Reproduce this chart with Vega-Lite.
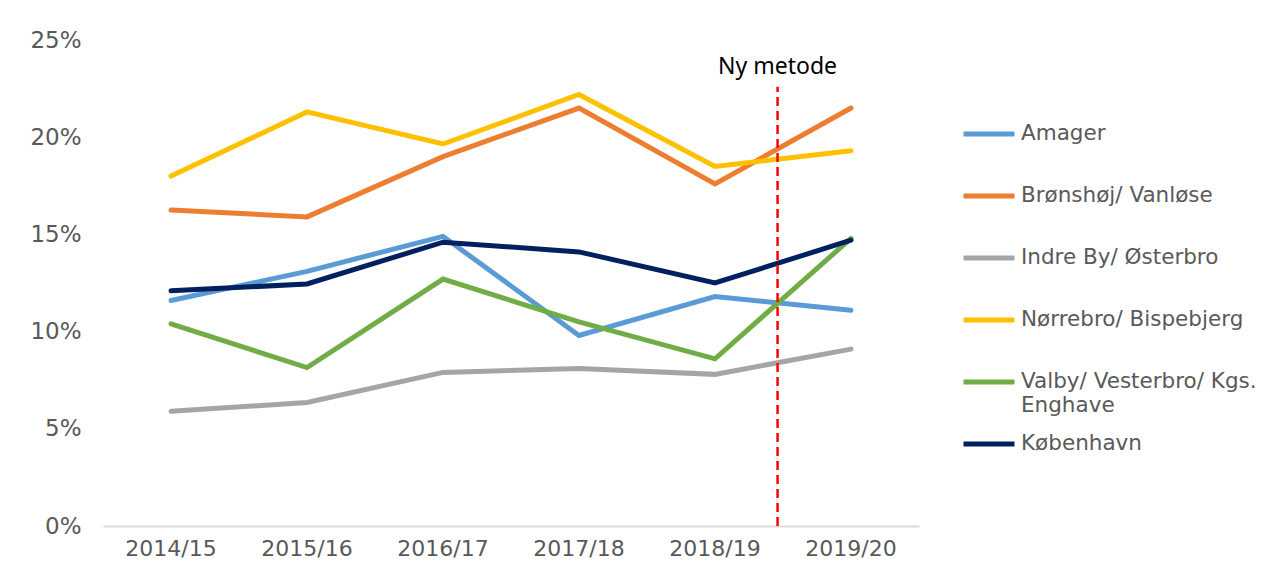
{
  "$schema": "https://vega.github.io/schema/vega-lite/v6.json",
  "width": 816,
  "height": 486,
  "autosize": "none",
  "padding": {"left": 103, "top": 40, "right": 366, "bottom": 55},
  "background": "white",
  "config": {"view": {"stroke": null}, "font": "DejaVu Sans"},
  "data": {"values": [
    {"year": "2014/15", "area": "Amager", "value": 11.6},
    {"year": "2015/16", "area": "Amager", "value": 13.1},
    {"year": "2016/17", "area": "Amager", "value": 14.9},
    {"year": "2017/18", "area": "Amager", "value": 9.8},
    {"year": "2018/19", "area": "Amager", "value": 11.8},
    {"year": "2019/20", "area": "Amager", "value": 11.1},
    {"year": "2014/15", "area": "Brønshøj/ Vanløse", "value": 16.25},
    {"year": "2015/16", "area": "Brønshøj/ Vanløse", "value": 15.9},
    {"year": "2016/17", "area": "Brønshøj/ Vanløse", "value": 19.0},
    {"year": "2017/18", "area": "Brønshøj/ Vanløse", "value": 21.5},
    {"year": "2018/19", "area": "Brønshøj/ Vanløse", "value": 17.6},
    {"year": "2019/20", "area": "Brønshøj/ Vanløse", "value": 21.5},
    {"year": "2014/15", "area": "Indre By/ Østerbro", "value": 5.9},
    {"year": "2015/16", "area": "Indre By/ Østerbro", "value": 6.35},
    {"year": "2016/17", "area": "Indre By/ Østerbro", "value": 7.9},
    {"year": "2017/18", "area": "Indre By/ Østerbro", "value": 8.1},
    {"year": "2018/19", "area": "Indre By/ Østerbro", "value": 7.8},
    {"year": "2019/20", "area": "Indre By/ Østerbro", "value": 9.1},
    {"year": "2014/15", "area": "Nørrebro/ Bispebjerg", "value": 18.0},
    {"year": "2015/16", "area": "Nørrebro/ Bispebjerg", "value": 21.3},
    {"year": "2016/17", "area": "Nørrebro/ Bispebjerg", "value": 19.65},
    {"year": "2017/18", "area": "Nørrebro/ Bispebjerg", "value": 22.2},
    {"year": "2018/19", "area": "Nørrebro/ Bispebjerg", "value": 18.5},
    {"year": "2019/20", "area": "Nørrebro/ Bispebjerg", "value": 19.3},
    {"year": "2014/15", "area": "Valby/ Vesterbro/ Kgs. Enghave", "value": 10.4},
    {"year": "2015/16", "area": "Valby/ Vesterbro/ Kgs. Enghave", "value": 8.15},
    {"year": "2016/17", "area": "Valby/ Vesterbro/ Kgs. Enghave", "value": 12.7},
    {"year": "2017/18", "area": "Valby/ Vesterbro/ Kgs. Enghave", "value": 10.5},
    {"year": "2018/19", "area": "Valby/ Vesterbro/ Kgs. Enghave", "value": 8.6},
    {"year": "2019/20", "area": "Valby/ Vesterbro/ Kgs. Enghave", "value": 14.8},
    {"year": "2014/15", "area": "København", "value": 12.1},
    {"year": "2015/16", "area": "København", "value": 12.45},
    {"year": "2016/17", "area": "København", "value": 14.6},
    {"year": "2017/18", "area": "København", "value": 14.1},
    {"year": "2018/19", "area": "København", "value": 12.5},
    {"year": "2019/20", "area": "København", "value": 14.7}
  ]},
  "layer": [
    {
      "mark": {"type": "line", "strokeWidth": 5, "strokeCap": "round"},
      "encoding": {
        "x": {
          "field": "year", "type": "ordinal",
          "scale": {"type": "band", "paddingInner": 0, "paddingOuter": 0},
          "axis": {"title": null, "labelAngle": 0, "ticks": false, "domainColor": "#D9D9D9", "domainWidth": 2, "labelPadding": 12, "labelFontSize": 22, "labelColor": "#595959", "labelFont": "DejaVu Sans"}
        },
        "y": {
          "field": "value", "type": "quantitative",
          "scale": {"domain": [0, 25], "nice": false},
          "axis": {"title": null, "values": [0, 5, 10, 15, 20, 25], "labelExpr": "datum.value + '%'", "ticks": false, "domain": false, "grid": false, "labelPadding": 22, "labelFontSize": 23, "labelColor": "#595959", "labelFont": "DejaVu Sans"}
        },
        "color": {
          "field": "area", "type": "nominal",
          "scale": {
            "domain": ["Amager", "Brønshøj/ Vanløse", "Indre By/ Østerbro", "Nørrebro/ Bispebjerg", "Valby/ Vesterbro/ Kgs. Enghave", "København"],
            "range": ["#5B9BD5", "#ED7D31", "#A5A5A5", "#FFC000", "#70AD47", "#002060"]
          },
          "legend": {
            "title": null, "orient": "none", "legendX": 858, "legendY": 66,
            "symbolType": "stroke", "symbolSize": 2601, "symbolStrokeWidth": 5,
            "labelFontSize": 21.5, "labelColor": "#595959", "labelFont": "DejaVu Sans", "labelLimit": 400, "labelOffset": 4,
            "rowPadding": 0,
            "labelExpr": "datum.label == 'Valby/ Vesterbro/ Kgs. Enghave' ? ['Valby/ Vesterbro/ Kgs.', 'Enghave'] : [datum.label, ' ']"
          }
        }
      }
    },
    {
      "data": {"values": [{"year": "2018/19", "bottom": 0, "top": 22.6}]},
      "mark": {"type": "rule", "color": "#FF0000", "strokeWidth": 2.5, "strokeDash": [9, 5]},
      "encoding": {
        "x": {"field": "year", "type": "ordinal", "bandPosition": 0.96},
        "y": {"field": "bottom", "type": "quantitative"},
        "y2": {"field": "top"}
      }
    },
    {
      "data": {"values": [{"year": "2018/19", "ty": 23.6, "label": "Ny metode"}]},
      "mark": {"type": "text", "font": "Noto Sans", "fontSize": 23, "color": "#000000"},
      "encoding": {
        "x": {"field": "year", "type": "ordinal", "bandPosition": 0.96},
        "y": {"field": "ty", "type": "quantitative"},
        "text": {"field": "label"}
      }
    }
  ]
}
